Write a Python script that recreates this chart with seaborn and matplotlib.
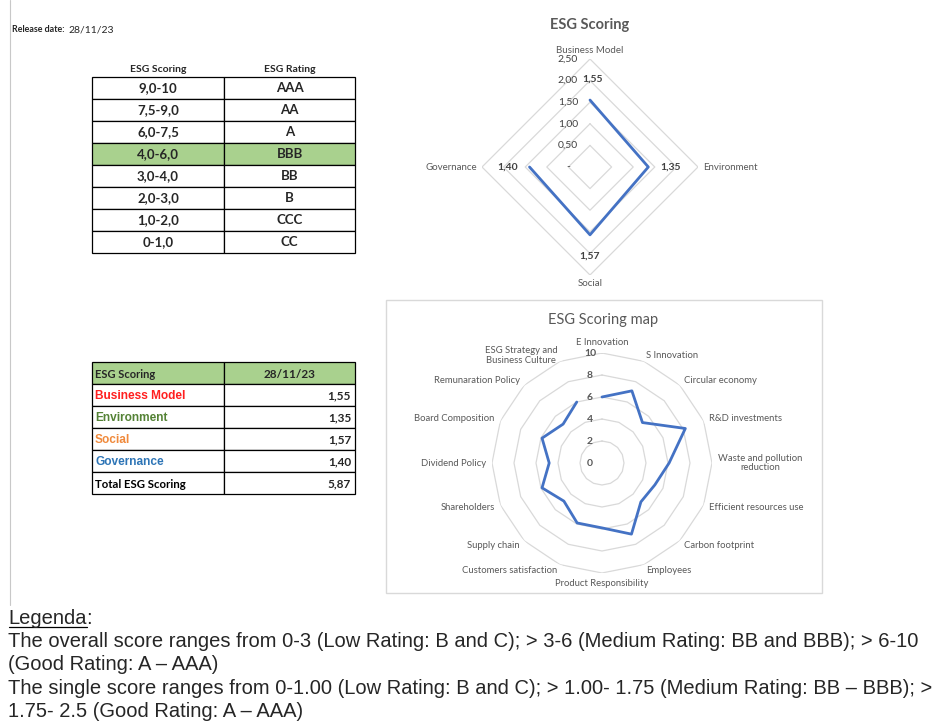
import numpy as np
import matplotlib
matplotlib.use("Agg")
import matplotlib.pyplot as plt
import matplotlib.transforms as mtransforms
from matplotlib.patches import Rectangle
import seaborn as sns

# --- Data ---
release_date = "28/11/23"

rating_ranges = ["9,0-10", "7,5-9,0", "6,0-7,5", "4,0-6,0", "3,0-4,0", "2,0-3,0", "1,0-2,0", "0-1,0"]
rating_labels = ["AAA", "AA", "A", "BBB", "BB", "B", "CCC", "CC"]
current_rating = "BBB"

pillars = ["Business Model", "Environment", "Social", "Governance"]
pillar_scores = [1.55, 1.35, 1.57, 1.40]
total_score = 5.87
small_ticks = [0, 0.5, 1.0, 1.5, 2.0, 2.5]

map_categories = ["E Innovation", "S Innovation", "Circular economy", "R&D investments",
                  "Waste and pollution\nreduction", "Efficient resources use", "Carbon footprint",
                  "Employees", "Product Responsibility", "Customers satisfaction", "Supply chain",
                  "Shareholders", "Dividend Policy", "Board Composition", "Remunaration Policy",
                  "ESG Strategy and\nBusiness Culture"]
map_scores = [6.0, 7.1, 5.2, 8.2, 6.1, 5.2, 5.0, 7.0, 5.9, 5.9, 4.9, 5.9, 4.8, 5.9, 5.0, 6.0]
map_ticks = [0, 2, 4, 6, 8, 10]

legend_lines = [
    "The overall score ranges from 0-3 (Low Rating: B and C); > 3-6 (Medium Rating: BB and BBB); > 6-10",
    "(Good Rating: A \u2013 AAA)",
    "The single score ranges from 0-1.00 (Low Rating: B and C); > 1.00- 1.75 (Medium Rating: BB \u2013 BBB); >",
    "1.75- 2.5 (Good Rating: A \u2013 AAA)",
]

# --- Styles ---
pillar_colors = ["#ff1f1f", "#548235", "#f08a3c", "#2e75b6"]
green = "#a9d18e"
grey_txt = "#595959"
ring_col = "#d9d9d9"
line_col = "#4472c4"

sns.set_theme(style="white")
plt.rcParams['font.family'] = ['Lato', 'DejaVu Sans']

W, H = 945, 722
fig = plt.figure(figsize=(W / 100, H / 100), dpi=100)
page = fig.add_axes([0, 0, 1, 1])
page.set_xlim(0, W)
page.set_ylim(H, 0)
page.axis('off')


def fmt(v):
    return f"{v:.2f}".replace('.', ',')


def polar_axes(cx, cy, r):
    ax = fig.add_axes([(cx - r) / W, 1 - (cy + r) / H, 2 * r / W, 2 * r / H], projection='polar')
    ax.set_theta_zero_location('N')
    ax.set_theta_direction(-1)
    ax.grid(False)
    ax.set_xticks([])
    ax.set_yticks([])
    ax.spines['polar'].set_visible(False)
    ax.set_facecolor('none')
    return ax


def off(ax, dx, dy):
    return mtransforms.offset_copy(ax.transData, fig=fig, x=dx, y=dy, units='dots')


# left margin line
page.plot([10, 10], [0, 605], color="#c8c8c8", lw=0.8)

# release date
page.text(12, 30, "Release date:", fontsize=6.4, weight='bold', va='center')
page.text(68, 30, release_date, fontsize=7.5, va='center')

# --- Rating table ---
x0, xm, x1 = 92, 224, 355
top, rh = 77, 22
page.text((x0 + xm) / 2, 70, "ESG Scoring", fontsize=7.5, weight='bold', ha='center', va='center')
page.text((xm + x1) / 2, 70, "ESG Rating", fontsize=7.5, weight='bold', ha='center', va='center')
for i, (rng, lab) in enumerate(zip(rating_ranges, rating_labels)):
    y = top + i * rh
    face = green if lab == current_rating else 'white'
    for xa, xb, txt in [(x0, xm, rng), (xm, x1, lab)]:
        page.add_patch(Rectangle((xa, y), xb - xa, rh, facecolor=face, edgecolor='black', lw=0.9))
        page.text((xa + xb) / 2, y + rh / 2, txt, fontsize=9.5, weight='bold', ha='center', va='center')

# --- Score table ---
top2 = 362
page.add_patch(Rectangle((x0, top2), xm - x0, rh, facecolor=green, edgecolor='black', lw=0.9))
page.add_patch(Rectangle((xm, top2), x1 - xm, rh, facecolor=green, edgecolor='black', lw=0.9))
page.text(x0 + 3, top2 + rh / 2 + 1, "ESG Scoring", fontsize=8, weight='bold', va='center')
page.text((xm + x1) / 2, top2 + rh / 2 + 1, release_date, fontsize=8.5, weight='bold', ha='center', va='center')
rows = list(zip(pillars, pillar_scores, pillar_colors)) + [("Total ESG Scoring", total_score, 'black')]
for i, (name, val, col) in enumerate(rows):
    y = top2 + (i + 1) * rh
    for xa, xb in [(x0, xm), (xm, x1)]:
        page.add_patch(Rectangle((xa, y), xb - xa, rh, facecolor='white', edgecolor='black', lw=0.9))
    fam = ['Lato', 'DejaVu Sans'] if col == 'black' else ['Liberation Sans', 'DejaVu Sans']
    page.text(x0 + 3, y + rh / 2 + 1, name, fontsize=8.2 if col == 'black' else 8.6, weight='bold',
              color=col, family=fam, va='center')
    page.text(x1 - 4, y + rh / 2 + 1, fmt(val), fontsize=8.5, weight='bold', ha='right', va='center')

# --- Small radar: ESG Scoring ---
page.text(590, 25, "ESG Scoring", fontsize=10.5, weight='bold', color=grey_txt, ha='center', va='center')
ax1 = polar_axes(590, 167, 108)
ang4 = np.arange(len(pillars)) * 2 * np.pi / len(pillars)
closed4 = np.append(ang4, ang4[0])
for r in small_ticks[1:]:
    ax1.plot(closed4, [r] * len(closed4), color=ring_col, lw=0.9)
sns.lineplot(x=closed4, y=pillar_scores + pillar_scores[:1], sort=False, ax=ax1, color=line_col, lw=2)
ax1.set_ylim(0, small_ticks[-1])
ax1.set_xlabel('')
ax1.set_ylabel('')
for t in small_ticks:
    ax1.text(0, t, fmt(t) if t > 0 else "-", transform=off(ax1, -22, 0), fontsize=7.5,
             color='#404040', ha='center', va='center')
aligns = [('center', 'bottom'), ('left', 'center'), ('center', 'top'), ('right', 'center')]
for a, name, val, (ha, va) in zip(ang4, pillars, pillar_scores, aligns):
    dx, dy = np.sin(a), np.cos(a)
    ax1.text(a, small_ticks[-1], name, transform=off(ax1, 5 * dx, 4 * dy), fontsize=7,
             color=grey_txt, ha=ha, va=va)
    ax1.text(a, val, fmt(val), transform=off(ax1, 22 * dx + (3 if a == 0 else 0), 21 * dy), fontsize=7.5,
             weight='bold', color='#404040', ha='center', va='center')

# --- Large radar: ESG Scoring map ---
page.add_patch(Rectangle((386, 300), 436, 293, facecolor='none', edgecolor=ring_col, lw=1))
page.text(603, 320, "ESG Scoring map", fontsize=10.5, color=grey_txt, ha='center', va='center')
ax2 = polar_axes(602, 463, 110)
n = len(map_categories)
ang = np.arange(n) * 2 * np.pi / n
closed = np.append(ang, ang[0])
for r in map_ticks[1:]:
    ax2.plot(closed, [r] * len(closed), color=ring_col, lw=0.9)
sns.lineplot(x=closed, y=map_scores + map_scores[:1], sort=False, ax=ax2, color=line_col, lw=2)
ax2.set_ylim(0, map_ticks[-1])
ax2.set_xlabel('')
ax2.set_ylabel('')
for t in map_ticks:
    ax2.text(0, t, str(t), transform=off(ax2, -12, 0), fontsize=7.5, weight='bold',
             color=grey_txt, ha='center', va='center')
for a, name in zip(ang, map_categories):
    deg = np.degrees(a)
    if np.isclose(deg, 0):
        ha, va = 'center', 'bottom'
    elif np.isclose(deg, 180):
        ha, va = 'center', 'top'
    elif deg < 180:
        ha, va = 'left', 'center'
    else:
        ha, va = 'right', 'center'
    ax2.text(a, map_ticks[-1], name, transform=off(ax2, 6 * np.sin(a), 6 * np.cos(a)), fontsize=6.8,
             color=grey_txt, ha=ha, va=va, multialignment='center', linespacing=1.1)

# --- Legend text ---
lfam = ['Liberation Sans', 'DejaVu Sans']
lsize = 14.5
leg = page.text(8, 624, "Legenda", fontsize=lsize, family=lfam, va='baseline')
fig.canvas.draw()
bb = leg.get_window_extent(fig.canvas.get_renderer())
(lx0, _), (lx1, _) = page.transData.inverted().transform([[bb.x0, bb.y0], [bb.x1, bb.y1]])
page.text(lx1, 624, ":", fontsize=lsize, family=lfam, va='baseline')
page.plot([lx0 + 1, lx1], [626.5, 626.5], color='black', lw=0.9)
for i, line in enumerate(legend_lines):
    page.text(8, 647 + i * 23.3, line, fontsize=lsize, family=lfam, va='baseline')

fig.savefig("out.png", dpi=100)
